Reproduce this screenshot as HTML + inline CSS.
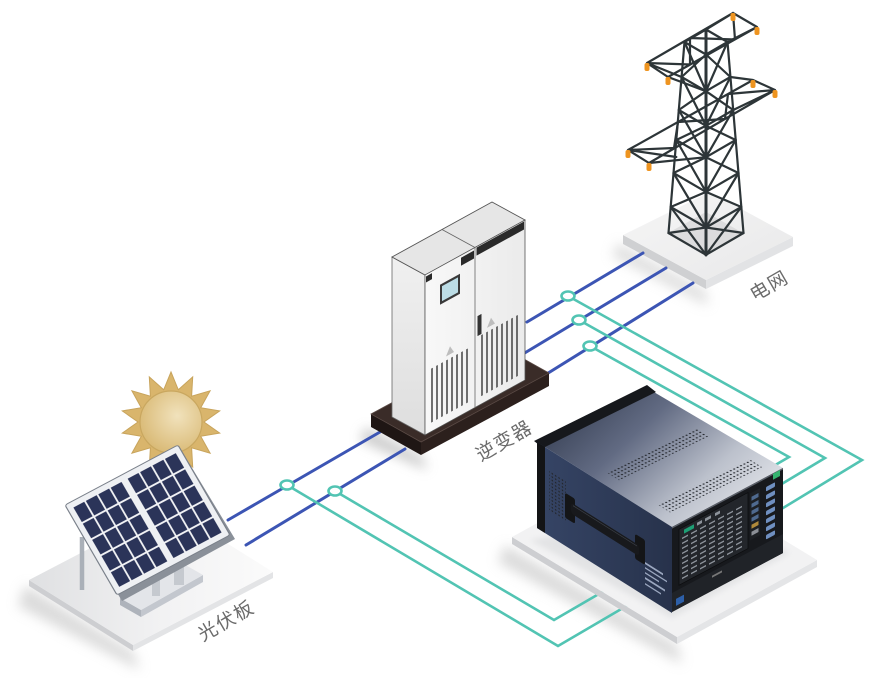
<!DOCTYPE html>
<html><head><meta charset="utf-8">
<style>
html,body{margin:0;padding:0;background:#ffffff;width:875px;height:678px;overflow:hidden;}
svg{display:block;}
.lbl{font-family:"Liberation Sans","Noto Sans CJK SC",sans-serif;font-size:19px;fill:#6b6b6b;letter-spacing:1.5px;}
</style></head><body>
<svg width="875" height="678" viewBox="0 0 875 678" xmlns="http://www.w3.org/2000/svg">
<defs>
<filter id="bl6" x="-50%" y="-50%" width="200%" height="200%"><feGaussianBlur stdDeviation="6"/></filter>
<filter id="bl3" x="-50%" y="-50%" width="200%" height="200%"><feGaussianBlur stdDeviation="3"/></filter>
<linearGradient id="gPlatTop" x1="0" y1="0" x2="1" y2="0"><stop offset="0" stop-color="#dfe0e2"/><stop offset="0.55" stop-color="#f2f2f3"/><stop offset="1" stop-color="#fbfbfb"/></linearGradient>
<linearGradient id="gGridTop" x1="0" y1="0" x2="1" y2="1"><stop offset="0" stop-color="#f6f6f6"/><stop offset="1" stop-color="#e8e8e9"/></linearGradient>
<linearGradient id="gInvLeft" x1="0" y1="0" x2="0" y2="1"><stop offset="0" stop-color="#f0f0f0"/><stop offset="1" stop-color="#dedede"/></linearGradient>
<linearGradient id="gInvFront" x1="0" y1="0" x2="1" y2="0"><stop offset="0" stop-color="#f8f8f8"/><stop offset="1" stop-color="#ebebeb"/></linearGradient>
<linearGradient id="gInstTop" x1="0" y1="0.2" x2="1" y2="0.8"><stop offset="0" stop-color="#323b4f"/><stop offset="0.35" stop-color="#626b83"/><stop offset="0.7" stop-color="#bcc1cc"/><stop offset="1" stop-color="#e8eaee"/></linearGradient>
<linearGradient id="gInstLeft" x1="0" y1="0" x2="1" y2="0"><stop offset="0" stop-color="#364566"/><stop offset="1" stop-color="#27324b"/></linearGradient>
<radialGradient id="gSun" cx="0.6" cy="0.4" r="0.7"><stop offset="0" stop-color="#f1e2bc"/><stop offset="1" stop-color="#d7b66f"/></radialGradient>
<pattern id="dots" patternUnits="userSpaceOnUse" width="3.4" height="3.4"><circle cx="1.7" cy="1.7" r="0.8" fill="#23262c"/></pattern>
<pattern id="txt" patternUnits="userSpaceOnUse" x="10" y="15" width="9" height="5"><rect x="0" y="1" width="6" height="1.5" fill="#8d939b"/></pattern>
<pattern id="cellsL" patternUnits="userSpaceOnUse" x="4" y="5" width="11" height="18"><rect x="0.7" y="0.9" width="9.6" height="16.2" fill="#2b3459"/></pattern>
<pattern id="cellsR" patternUnits="userSpaceOnUse" x="52" y="5" width="11" height="18"><rect x="0.7" y="0.9" width="9.6" height="16.2" fill="#2b3459"/></pattern>
</defs>

<rect width="875" height="678" fill="#ffffff"/>

<!-- soft shadows -->
<g filter="url(#bl6)" opacity="0.55">
 <polygon points="25,585 133,652 140,670 18,606" fill="#bdbdbd"/>
 <polygon points="505,545 677,645 682,664 498,562" fill="#bdbdbd"/>
 <polygon points="618,243 706,291 708,306 612,256" fill="#c4c4c4"/>
 <polygon points="366,428 421,456 428,470 360,440" fill="#999"/>
</g>

<!-- solar platform -->
<polygon points="29,580 133,645 133,651 29,586" fill="#cdced1"/>
<polygon points="133,645 273,572 273,578 133,651" fill="#e3e4e6"/>
<polygon points="29,580 169,507 273,572 133,645" fill="url(#gPlatTop)"/>

<!-- grid platform -->
<polygon points="623,235 706,280 706,289 623,244" fill="#cfd0d2"/>
<polygon points="706,280 793,237 793,246 706,289" fill="#e2e3e5"/>
<polygon points="623,235 710,192 793,237 706,280" fill="url(#gGridTop)"/>
<polygon points="668,233 706,212 743,233 706,255" fill="#d4d4d6" opacity="0.7"/>

<!-- blue power lines -->
<g stroke="#3c55b4" stroke-width="3" stroke-linecap="round">
<line x1="228" y1="520" x2="380" y2="432"/>
<line x1="246" y1="545" x2="405" y2="449"/>
<line x1="527" y1="322" x2="643" y2="253"/>
<line x1="523" y1="354" x2="666" y2="268"/>
<line x1="545" y1="375" x2="693" y2="283"/>
</g>

<!-- teal measurement lines -->
<g stroke="#52c4b3" stroke-width="2.6" fill="none" stroke-linejoin="miter">
<polyline points="568,296 862,460 760,522"/>
<polyline points="579,320 825,458 760,497"/>
<polyline points="590,346 789,457 765,471"/>
<polyline points="287,485 558,646 640,598"/>
<polyline points="335,491 554,620 640,570"/>
</g>
<g fill="#ffffff" stroke="#52c4b3" stroke-width="2.6">
<ellipse cx="568" cy="296" rx="6.5" ry="4.5"/>
<ellipse cx="579" cy="320" rx="6.5" ry="4.5"/>
<ellipse cx="590" cy="346" rx="6.5" ry="4.5"/>
<ellipse cx="287" cy="485" rx="6.5" ry="4.5"/>
<ellipse cx="335" cy="491" rx="6.5" ry="4.5"/>
</g>

<!-- inverter plinth -->
<polygon points="371,414 421,442 421,455 371,427" fill="#1f1614"/>
<polygon points="421,442 549,373 549,386 421,455" fill="#2c201d"/>
<polygon points="371,414 499,345 549,373 421,442" fill="#3a2c28" stroke="#5a4a45" stroke-width="0.8"/>

<!-- inverter cabinet -->
<polygon points="392,257 425,275 425,435 392,417" fill="url(#gInvLeft)" stroke="#666" stroke-width="0.8"/>
<polygon points="392,257 425,275 525,220 492,202" fill="#e6e6e6" stroke="#555" stroke-width="0.9"/>
<line x1="475" y1="247.5" x2="442" y2="229.5" stroke="#666" stroke-width="0.8"/>
<g transform="matrix(1,-0.55,0,1,425,275)">
 <rect x="0" y="0" width="100" height="160" fill="url(#gInvFront)" stroke="#555" stroke-width="0.8"/>
 <line x1="50" y1="0" x2="50" y2="160" stroke="#777" stroke-width="0.9"/>
 <rect x="1" y="2" width="6" height="6" fill="#2a2a2a"/>
 <rect x="36" y="2.5" width="13" height="8" fill="#2a2a2a"/>
 <rect x="51.5" y="1" width="47.5" height="8" fill="#2a2a2a"/>
 <rect x="15" y="18" width="20" height="20" fill="#3a3a3a"/>
 <rect x="17" y="20.5" width="16" height="15" fill="#bcdde6"/>
 <rect x="52.5" y="70" width="4" height="20" fill="#333"/>
 <polygon points="21,93 25,85 29,93" fill="#bdbdbd"/>
 <polygon points="62,87 66,79 70,87" fill="#bdbdbd"/>
 <g stroke="#4d4d4d" stroke-width="1.6">
  <line x1="7" y1="97" x2="7" y2="151"/><line x1="12" y1="97" x2="12" y2="151"/>
  <line x1="17" y1="97" x2="17" y2="151"/><line x1="22" y1="97" x2="22" y2="151"/>
  <line x1="27" y1="97" x2="27" y2="151"/><line x1="32" y1="97" x2="32" y2="151"/>
  <line x1="37" y1="97" x2="37" y2="151"/><line x1="42" y1="97" x2="42" y2="151"/>
  <line x1="57" y1="91" x2="57" y2="152"/><line x1="62" y1="91" x2="62" y2="152"/>
  <line x1="67" y1="91" x2="67" y2="152"/><line x1="72" y1="91" x2="72" y2="152"/>
  <line x1="77" y1="91" x2="77" y2="152"/><line x1="82" y1="91" x2="82" y2="152"/>
  <line x1="87" y1="91" x2="87" y2="152"/><line x1="92" y1="91" x2="92" y2="152"/>
 </g>
</g>

<!-- instrument platform -->
<polygon points="512,537 677,637 677,644 512,544" fill="#cdced1"/>
<polygon points="677,637 817,560 817,567 677,644" fill="#e4e5e7"/>
<polygon points="512,537 652,460 817,560 677,637" fill="#f2f2f3"/>
<polygon points="530,540 672,618 790,553 700,510" fill="#d9dadc" opacity="0.6" filter="url(#bl3)"/>

<!-- instrument -->
<polygon points="537,442 647,388 783,468 672,527" fill="url(#gInstTop)"/>
<g transform="matrix(1,-0.491,1,0.63,537,442)">
 <rect x="12" y="58" width="90" height="12" fill="url(#dots)"/>
 <rect x="12" y="108" width="92" height="13" fill="url(#dots)"/>
</g>
<polygon points="534,441 647,385 656,392 543,448" fill="#16181c"/>
<g transform="matrix(1,0.63,0,1,537,442)">
 <rect x="0" y="0" width="135" height="86" fill="url(#gInstLeft)"/>
 <rect x="0" y="0" width="8" height="86" fill="#131416"/>
 <rect x="12" y="20" width="17" height="42" fill="url(#dots)"/>
 <rect x="28" y="33" width="10" height="25" rx="2" fill="#141517"/>
 <rect x="98" y="30" width="10" height="25" rx="2" fill="#141517"/>
 <rect x="34" y="39" width="68" height="11" rx="3" fill="#18191c"/>
 <line x1="36" y1="41" x2="100" y2="41" stroke="#3c4048" stroke-width="0.8"/>
 <g fill="#b8c4dc" opacity="0.8">
  <rect x="108" y="52" width="18" height="2"/><rect x="108" y="57" width="22" height="1.5"/>
  <rect x="108" y="62" width="14" height="1.5"/><rect x="108" y="67" width="20" height="2"/>
  <rect x="108" y="73" width="16" height="1.5"/>
 </g>
</g>
<g transform="matrix(1,-0.532,0,1,672,527)">
 <rect x="0" y="0" width="111" height="85" fill="#17191d"/>
 <rect x="0" y="0" width="111" height="1.6" fill="#5a5f68"/>
 <rect x="7" y="6" width="69" height="56" fill="#23262b" stroke="#0c0d0f" stroke-width="0.8"/>
 <rect x="10" y="15" width="62" height="44" fill="url(#txt)"/>
 <rect x="12" y="9" width="10" height="4" fill="#1e9f75"/>
 <rect x="25" y="9" width="5" height="3" fill="#8d939b"/>
 <rect x="33" y="9" width="6" height="3" fill="#8d939b"/>
 <rect x="43" y="9" width="5" height="3" fill="#8d939b"/>
 <rect x="78" y="8" width="10" height="47" fill="#1d2024"/>
 <g fill="#4f6a8f">
  <rect x="79.5" y="12" width="7" height="4"/><rect x="79.5" y="19" width="7" height="4"/>
  <rect x="79.5" y="26" width="7" height="4"/><rect x="79.5" y="33" width="7" height="4"/>
  <rect x="79.5" y="40" width="7" height="4" fill="#b08a3a"/><rect x="79.5" y="47" width="7" height="4" fill="#8b8f96"/>
 </g>
 <g fill="#6f8fc0">
  <rect x="94" y="10" width="9" height="4.5" rx="1"/><rect x="94" y="18" width="9" height="4.5" rx="1"/>
  <rect x="94" y="26" width="9" height="4.5" rx="1"/><rect x="94" y="34" width="9" height="4.5" rx="1"/>
  <rect x="94" y="42" width="9" height="4.5" rx="1"/><rect x="94" y="50" width="9" height="4.5" rx="1"/>
  <rect x="94" y="58" width="9" height="4.5" rx="1"/>
 </g>
 <rect x="101" y="0.5" width="7" height="6" fill="#35b46f"/>
 <rect x="0" y="66" width="111" height="19" fill="#202328"/>
 <rect x="4" y="74" width="8" height="7" fill="#2d5fa8"/>
 <rect x="40" y="70" width="10" height="2" fill="#777"/>
</g>

<!-- transmission tower -->
<g stroke="#2d3538" stroke-width="2.2" fill="none" stroke-linecap="round" stroke-linejoin="round">
 <path d="M668.5,233 L684.5,42 M743.5,233 L727.5,42"/>
 <path d="M706,255 L706,29.5" stroke-width="3"/>
 <path d="M668.5,233 L706,254.8 L743.5,233 M670.7,207 L706,227.5 L741.3,207 M673.5,173 L706,191.9 L738.5,173 M676.3,140 L706,157.2 L735.7,140 M678.8,110 L706,125.8 L733.2,110 M681.6,77 L706,91.2 L730.4,77 M684.5,42 L706,54.5 L727.5,42 M684.5,42 L706,29.5 L727.5,42"/>
 <path d="M668.5,233 L706,227.5 M706,254.8 L670.7,207 M670.7,207 L706,191.9 M706,227.5 L673.5,173 M673.5,173 L706,157.2 M706,191.9 L676.3,140 M676.3,140 L706,125.8 M706,157.2 L678.8,110 M678.8,110 L706,91.2 M706,125.8 L681.6,77 M681.6,77 L706,54.5 M706,91.2 L684.5,42"/>
 <path d="M743.5,233 L706,227.5 M706,254.8 L741.3,207 M741.3,207 L706,191.9 M706,227.5 L738.5,173 M738.5,173 L706,157.2 M706,191.9 L735.7,140 M735.7,140 L706,125.8 M706,157.2 L733.2,110 M733.2,110 L706,91.2 M706,125.8 L730.4,77 M730.4,77 L706,54.5 M706,91.2 L727.5,42"/>
 <path d="M647,63 L733,13 M668,77 L757,27 M647,63 L668,77 M733,13 L757,27 M647,63 L690,64.5 L690,38 L735,39.5 L733,13 M647,63 L681.6,77 M668,77 L706,91.2 M757,27 L727.5,42 M733,13 L706,29.5"/>
 <path d="M628,150 L753,80 M649,163 L775,90 M628,150 L649,163 M753,80 L775,90 M628,150 L674,148 L678,122 L725,119 L728,94 L775,90 M628,150 L676.3,157 M649,163 L706,157.2 M775,90 L733.2,110 M753,80 L730.4,77"/>
</g>
<g fill="#ee9420">
 <rect x="644.5" y="63" width="5" height="8" rx="2"/><rect x="665.5" y="77" width="5" height="8" rx="2"/>
 <rect x="730.5" y="13" width="5" height="8" rx="2"/><rect x="754.5" y="27" width="5" height="8" rx="2"/>
 <rect x="625.5" y="150" width="5" height="8" rx="2"/><rect x="646.5" y="163" width="5" height="8" rx="2"/>
 <rect x="750.5" y="80" width="5" height="8" rx="2"/><rect x="772.5" y="90" width="5" height="8" rx="2"/>
</g>

<!-- sun -->
<g transform="translate(0,-4)">
<polygon points="171,376 178.3,393.8 192.7,380.9 191.6,400.2 210.1,394.8 200.7,411.7 219.7,414.9 204,426 219.7,437.1 200.7,440.3 210.1,457.2 191.6,451.8 192.7,471.1 178.3,458.2 171,476 163.7,458.2 149.3,471.1 150.4,451.8 131.9,457.2 141.3,440.3 122.3,437.1 138,426 122.3,414.9 141.3,411.7 131.9,394.8 150.4,400.2 149.3,380.9 163.7,393.8" fill="#d9b56c" stroke="#c8a45c" stroke-width="1"/>
<circle cx="171" cy="426" r="31" fill="url(#gSun)" stroke="#c9a75f" stroke-width="1.2"/>
</g>

<!-- solar stand -->
<line x1="82" y1="537" x2="82" y2="590" stroke="#aab0b8" stroke-width="4.5"/>
<polygon points="120,598 141,610 141,617 120,605" fill="#aeb3bb"/>
<polygon points="141,610 203,575 203,582 141,617" fill="#c3c7ce"/>
<polygon points="120,598 182,563 203,575 141,610" fill="#e3e5e9"/>
<rect x="152" y="574" width="8" height="22" fill="#c5c9cf"/>
<rect x="174" y="563" width="10" height="22" fill="#c5c9cf"/>

<!-- solar panel -->
<polygon points="65,505 178,445 233,536 120,598" fill="#8a9099" transform="translate(2,3)"/>
<g transform="matrix(1.13,-0.6,0.52,0.9,65,505)">
 <rect x="0" y="0" width="100" height="100" rx="2" fill="#eef0f3" stroke="#7a808a" stroke-width="0.9"/>
 <rect x="4" y="5" width="44" height="90" fill="#f4f5f7"/>
 <rect x="52" y="5" width="44" height="90" fill="#f4f5f7"/>
 <rect x="4" y="5" width="44" height="90" fill="url(#cellsL)"/>
 <rect x="52" y="5" width="44" height="90" fill="url(#cellsR)"/>
</g>

<!-- labels -->
<text class="lbl" transform="translate(227,622) rotate(-30)" text-anchor="middle" dominant-baseline="middle">光伏板</text>
<text class="lbl" transform="translate(505,442) rotate(-30)" text-anchor="middle" dominant-baseline="middle">逆变器</text>
<text class="lbl" transform="translate(770,287) rotate(-30)" text-anchor="middle" dominant-baseline="middle">电网</text>
</svg>
</body></html>
